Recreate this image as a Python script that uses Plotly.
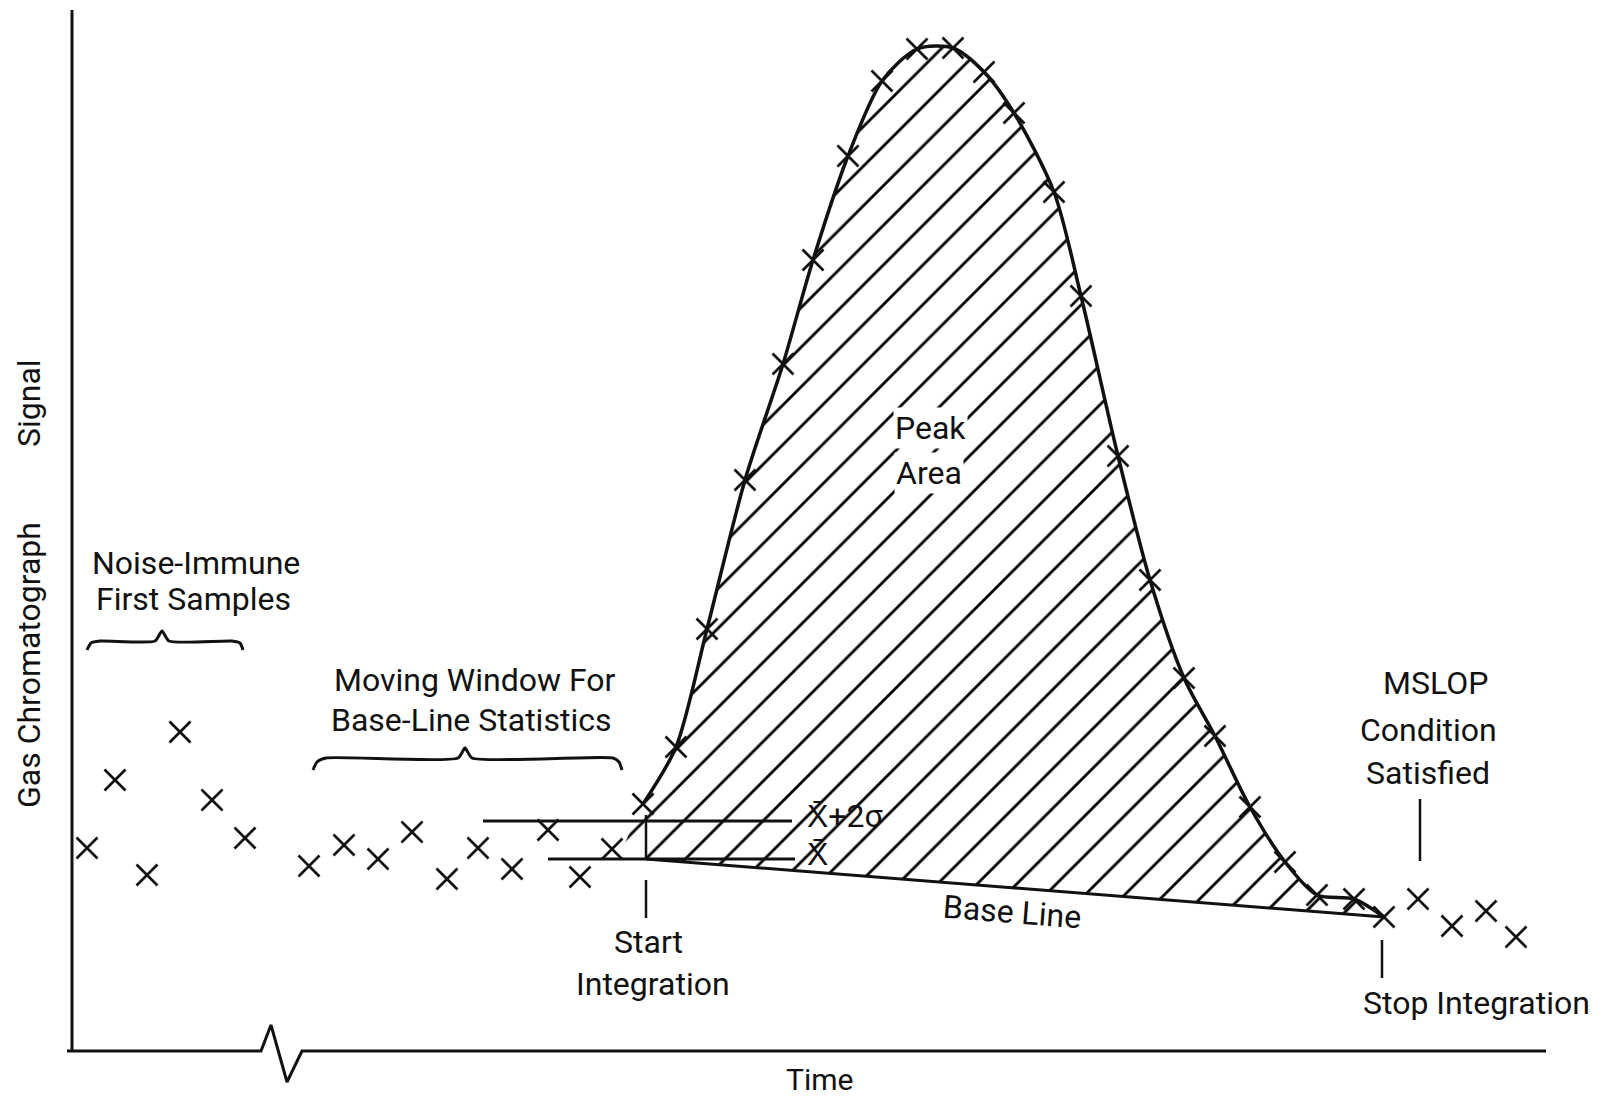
import plotly.graph_objects as go

# ---------------- data (time, signal) in diagram units ----------------
# Noise-immune first samples
noise_t = [15, 43, 75, 108, 140, 173]
noise_s = [203, 271, 176, 319, 251, 213]
# Moving window samples for base-line statistics
window_t = [237, 272, 306, 340, 375, 406, 440, 476, 508, 540]
window_s = [185, 206, 192, 219, 172, 203, 182, 221, 174, 202]
# Samples on the peak
peak_t = [571, 604, 635, 673, 711, 741, 776, 810, 845, 881, 912, 942, 982,
          1009, 1046, 1078, 1112, 1143, 1178, 1213, 1245, 1282]
peak_s = [247, 304, 422, 571, 687, 791, 895, 970, 1002, 1003, 979, 938, 859,
          755, 595, 471, 373, 315, 244, 189, 156, 152]
# Stop-integration sample and samples after the peak
stop_t, stop_s = 1312, 134
tail_t = [1346, 1380, 1414, 1444]
tail_s = [152, 125, 140, 114]

# Base-line statistics
xbar = 192
xbar_2sigma = 230
start_t, start_s = 574, 192          # start of integration on the base line
fill_start_t = 546                    # where the peak leaves the x-bar level

# Axis outline with the time-break symbol
axis_y_t = [0, 0]
axis_y_s = [0, 1041]
axis_x_t = [-5, 189, 199, 215, 230, 1474]
axis_x_s = [0, 0, 26, -31, 0, 0]

# Braces
brace1_t = [15, 19, 28, 83, 90, 97, 160, 168, 171]
brace1_s = [401, 408, 410, 410, 420, 410, 410, 408, 401]
brace2_t = [241, 245, 254, 386, 393, 400, 541, 547, 550]
brace2_s = [281, 289, 293, 293, 303, 293, 293, 289, 281]

FONT = "Roboto, 'Liberation Sans', Arial, sans-serif"
INK = "#111111"

fig = go.Figure()

# hatched peak area: base line (lower boundary) then curve filled to it
fig.add_trace(go.Scatter(x=[start_t, stop_t], y=[start_s, stop_s], mode="lines",
                         line=dict(width=0, color="rgba(0,0,0,0)"), hoverinfo="skip"))
fig.add_trace(go.Scatter(x=[fill_start_t] + peak_t + [stop_t],
                         y=[xbar] + peak_s + [stop_s],
                         mode="lines", line=dict(width=0, shape="spline", smoothing=0.8,
                                                  color="rgba(0,0,0,0)"),
                         fill="tonexty", fillcolor="white",
                         fillpattern=dict(shape="/", size=28, solidity=0.1,
                                          fgcolor="#000000", fgopacity=1,
                                          bgcolor="white", fillmode="replace"),
                         hoverinfo="skip"))

# visible peak curve
fig.add_trace(go.Scatter(x=peak_t + [stop_t], y=peak_s + [stop_s], mode="lines",
                         line=dict(width=3.5, color=INK, shape="spline", smoothing=0.8)))
# base line
fig.add_trace(go.Scatter(x=[start_t, stop_t], y=[start_s, stop_s], mode="lines",
                         line=dict(width=3, color=INK)))

# statistic levels
fig.add_trace(go.Scatter(x=[411, 720], y=[xbar_2sigma, xbar_2sigma], mode="lines",
                         line=dict(width=3, color=INK)))
fig.add_trace(go.Scatter(x=[476, 723], y=[xbar, xbar], mode="lines",
                         line=dict(width=3, color=INK)))
# start-integration vertical between the levels and tick below
fig.add_trace(go.Scatter(x=[start_t, start_t], y=[xbar, xbar_2sigma + 6], mode="lines",
                         line=dict(width=2.5, color=INK)))
fig.add_trace(go.Scatter(x=[start_t, start_t], y=[171, 133], mode="lines",
                         line=dict(width=2.5, color=INK)))
# stop tick and MSLOP tick
fig.add_trace(go.Scatter(x=[stop_t - 2, stop_t - 2], y=[111, 73], mode="lines",
                         line=dict(width=2.5, color=INK)))
fig.add_trace(go.Scatter(x=[1348, 1348], y=[252, 190], mode="lines",
                         line=dict(width=2.5, color=INK)))

# braces
fig.add_trace(go.Scatter(x=brace1_t, y=brace1_s, mode="lines",
                         line=dict(width=3, color=INK, shape="spline", smoothing=0.6)))
fig.add_trace(go.Scatter(x=brace2_t, y=brace2_s, mode="lines",
                         line=dict(width=3, color=INK, shape="spline", smoothing=0.6)))

# axes
fig.add_trace(go.Scatter(x=axis_y_t, y=axis_y_s, mode="lines", line=dict(width=3, color=INK)))
fig.add_trace(go.Scatter(x=axis_x_t, y=axis_x_s, mode="lines", line=dict(width=3, color=INK)))

# sample markers
all_t = noise_t + window_t + peak_t + [stop_t] + tail_t
all_s = noise_s + window_s + peak_s + [stop_s] + tail_s
fig.add_trace(go.Scatter(x=all_t, y=all_s, mode="markers",
                         marker=dict(symbol="x-thin", size=21, color=INK,
                                     line=dict(width=2.7, color=INK))))

def note(x, y, text, angle=0, bg=None, size=32):
    fig.add_annotation(x=x, y=y, text=text, showarrow=False, textangle=angle,
                       xanchor="center", yanchor="middle",
                       font=dict(family=FONT, size=size, color=INK),
                       bgcolor=bg, borderpad=1)

note(-43, 386, "Gas Chromatograph", angle=-90)
note(-43, 648, "Signal", angle=-90)
note(747, -28, "Time", size=30)
note(124, 488, "Noise-Immune")
note(121, 452, "First Samples")
note(403, 371, "Moving Window For")
note(399, 331, "Base-Line Statistics")
note(576, 109, "Start")
note(581, 67, "Integration")
note(858, 623, "Peak", bg="white")
note(857, 578, "Area", bg="white")
note(940, 139, "Base Line", angle=4.5)
note(773, 235, "X\u0304+2\u03c3", size=32)
note(745, 197, "X\u0304", size=32)
note(1363, 368, "MSLOP")
note(1356, 321, "Condition")
note(1356, 278, "Satisfied")
note(1404, 48, "Stop Integration")

fig.update_layout(width=1611, height=1102, margin=dict(l=0, r=0, t=0, b=0),
                  paper_bgcolor="white", plot_bgcolor="white", showlegend=False,
                  xaxis=dict(range=[-72, 1539], visible=False),
                  yaxis=dict(range=[-51, 1051], visible=False))

fig.write_html("out.html", config={"displayModeBar": False},
               post_script="document.body.style.margin='0';document.body.style.overflow='hidden';")
